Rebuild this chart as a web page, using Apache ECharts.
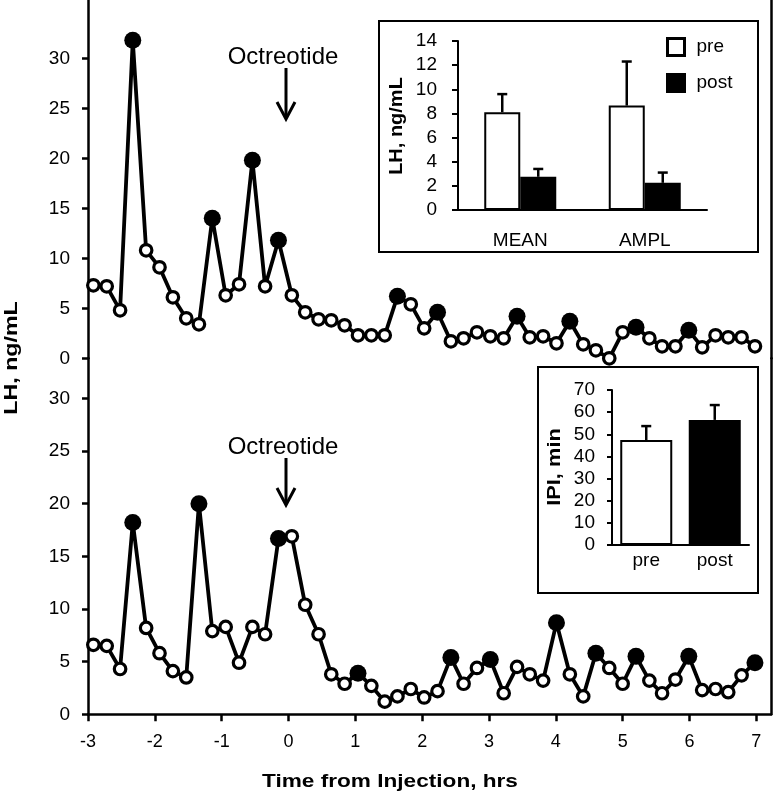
<!DOCTYPE html>
<html>
<head>
<meta charset="utf-8">
<script src="https://cdn.jsdelivr.net/npm/echarts@6/dist/echarts.min.js"></script>
<style>html,body{margin:0;padding:0;background:#fff}#c{width:774px;height:795px}</style>
</head>
<body>
<div id="c"></div>
<script>
// ---- data ----
const times = [-2.92,-2.72,-2.52,-2.33,-2.13,-1.93,-1.73,-1.53,-1.34,-1.14,-0.94,-0.74,-0.54,-0.35,-0.15,0.05,0.25,0.45,0.64,0.84,1.04,1.24,1.44,1.63,1.83,2.03,2.23,2.43,2.62,2.82,3.02,3.22,3.42,3.61,3.81,4.01,4.21,4.41,4.60,4.80,5.00,5.20,5.40,5.59,5.79,5.99,6.19,6.39,6.58,6.78,6.98];
const topLH = [7.3,7.2,4.8,31.8,10.8,9.1,6.1,4.0,3.4,14.0,6.3,7.4,19.8,7.2,11.8,6.3,4.6,3.9,3.8,3.3,2.3,2.3,2.3,6.2,5.4,3.0,4.6,1.7,2.0,2.6,2.2,2.0,4.2,2.1,2.2,1.5,3.7,1.4,0.8,0.0,2.6,3.1,2.0,1.2,1.2,2.8,1.1,2.3,2.1,2.1,1.2];
const bottomLH = [6.6,6.5,4.3,18.2,8.2,5.8,4.1,3.5,20.0,7.9,8.3,4.9,8.3,7.6,16.7,16.9,10.4,7.6,3.8,2.9,3.9,2.7,1.2,1.7,2.4,1.6,2.2,5.4,2.9,4.4,5.2,2.0,4.5,3.8,3.2,8.7,3.8,1.7,5.8,4.4,2.9,5.5,3.2,2.0,3.3,5.5,2.3,2.4,2.1,3.7,4.9];
const topPeakIdx = [3,9,12,14,23,26,32,36,41,45];
const bottomPeakIdx = [3,8,14,20,27,30,35,38,41,45,50];
const xTicks = [-3,-2,-1,0,1,2,3,4,5,6,7];
const yTicks = [0,5,10,15,20,25,30];

const barCats = ['MEAN','AMPL'];
const preMean = [8.1, 8.65];
const preErr = [1.5, 3.65];
const postMean = [2.75, 2.25];
const postErr = [0.65, 0.85];

const ipiCats = ['pre','post'];
const ipiMean = [47.4, 56.5];
const ipiErr = [6.3, 6.7];

// ---- build ----
const FONT = 'Liberation Sans, Arial, Helvetica, sans-serif';
function pts(vals, peaks) {
  return vals.map((v, i) => {
    const peak = peaks.indexOf(i) >= 0;
    return {
      value: [times[i], v],
      symbolSize: peak ? 17 : 11.5,
      itemStyle: peak ? {color:'#000', borderColor:'#000', borderWidth:0}
                      : {color:'#fff', borderColor:'#000', borderWidth:3.2}
    };
  });
}
function errRender(offset) {
  return function (params, api) {
    const c = api.value(0), lo = api.value(1), hi = api.value(2);
    const p1 = api.coord([c, lo]);
    const p2 = api.coord([c, hi]);
    const x = p1[0] + offset;
    const st = {stroke:'#000', lineWidth:2.5};
    return {type:'group', children:[
      {type:'line', shape:{x1:x, y1:p1[1], x2:x, y2:p2[1]}, style:st},
      {type:'line', shape:{x1:x-5, y1:p2[1], x2:x+5, y2:p2[1]}, style:st}
    ]};
  };
}
const axLine = {show:true, onZero:false, lineStyle:{color:'#000', width:2.5}};
const mainY = (gi, max) => ({
  gridIndex: gi, type:'value', min:0, max:max,
  axisLine: axLine,
  axisTick: {show:true, inside:false, length:6, lineStyle:{color:'#000', width:2.5}, customValues: yTicks},
  axisLabel: {color:'#000', fontSize:19, fontFamily:FONT, margin:18, customValues: yTicks},
  splitLine: {show:false}
});
const rightY = (gi, max) => ({
  gridIndex: gi, type:'value', position:'right', min:0, max:max,
  axisLine: axLine, axisTick:{show:false}, axisLabel:{show:false}, splitLine:{show:false}
});

function arrow(x, y1, y2) {
  return [
    {type:'line', shape:{x1:x, y1:y1, x2:x, y2:y2-1}, style:{stroke:'#000', lineWidth:3}},
    {type:'polyline', shape:{points:[[x-9, y2-17],[x, y2],[x+9, y2-17]]}, style:{stroke:'#000', lineWidth:3, fill:null}}
  ];
}

const option = {
  animation: false,
  backgroundColor: '#fff',
  textStyle: {fontFamily: FONT},
  grid: [
    {left:88, right:3, top:0, height:358.3},
    {left:88, right:3, top:358.3, height:356},
    {left:458, width:249, top:41, height:169},
    {left:612, width:137, top:390, height:155}
  ],
  xAxis: [
    {gridIndex:0, type:'value', min:-3, max:7.22, show:false},
    {gridIndex:1, type:'value', min:-3, max:7.22,
     axisLine: axLine,
     axisTick: {show:true, inside:false, length:7, lineStyle:{color:'#000', width:2.5}, customValues:xTicks},
     axisLabel: {color:'#000', fontSize:18, fontFamily:FONT, margin:19, customValues:xTicks},
     splitLine:{show:false}},
    {gridIndex:2, type:'category', data:barCats,
     axisLine:{show:true, onZero:false, lineStyle:{color:'#000', width:2}}, axisTick:{show:false},
     axisLabel:{color:'#000', fontSize:19, fontFamily:FONT, margin:21}},
    {gridIndex:3, type:'category', data:ipiCats,
     axisLine:{show:true, onZero:false, lineStyle:{color:'#000', width:2}}, axisTick:{show:false},
     axisLabel:{color:'#000', fontSize:19, fontFamily:FONT, margin:6}}
  ],
  yAxis: [
    mainY(0, 35.83),
    mainY(1, 33.8),
    rightY(0, 35.83),
    rightY(1, 33.8),
    {gridIndex:2, type:'value', min:0, max:14, interval:2,
     axisLine:{show:true, onZero:false, lineStyle:{color:'#000', width:2}},
     axisTick:{show:true, length:6, lineStyle:{color:'#000', width:2}},
     axisLabel:{color:'#000', fontSize:19, fontFamily:FONT, margin:21},
     splitLine:{show:false}},
    {gridIndex:3, type:'value', min:0, max:70, interval:10,
     axisLine:{show:true, onZero:false, lineStyle:{color:'#000', width:2}},
     axisTick:{show:true, length:5, lineStyle:{color:'#000', width:2}},
     axisLabel:{color:'#000', fontSize:19, fontFamily:FONT, margin:17},
     splitLine:{show:false}}
  ],
  legend: {
    data:['pre','post'], orient:'vertical', left:661, top:32,
    itemWidth:17, itemHeight:17, itemGap:16, icon:'rect',
    itemStyle:{borderColor:'#000', borderWidth:3},
    textStyle:{color:'#000', fontSize:19, fontFamily:FONT, padding:[0,0,0,7]}
  },
  series: [
    {type:'line', xAxisIndex:0, yAxisIndex:0, data:pts(topLH, topPeakIdx), symbol:'circle',
     lineStyle:{color:'#000', width:3.8}, clip:false, z:3},
    {type:'line', xAxisIndex:1, yAxisIndex:1, data:pts(bottomLH, bottomPeakIdx), symbol:'circle',
     lineStyle:{color:'#000', width:3.8}, clip:false, z:3},
    {name:'pre', type:'bar', xAxisIndex:2, yAxisIndex:4, data:preMean, barWidth:36, barGap:'0%',
     itemStyle:{color:'#fff', borderColor:'#000', borderWidth:2}},
    {name:'post', type:'bar', xAxisIndex:2, yAxisIndex:4, data:postMean, barWidth:36, barGap:'0%',
     itemStyle:{color:'#000', borderColor:'#000', borderWidth:2}},
    {name:'preErr', type:'custom', xAxisIndex:2, yAxisIndex:4, renderItem:errRender(-18),
     data: preMean.map((m,i)=>[i, m, m+preErr[i]]), z:5},
    {name:'postErr', type:'custom', xAxisIndex:2, yAxisIndex:4, renderItem:errRender(18),
     data: postMean.map((m,i)=>[i, m, m+postErr[i]]), z:5},
    {name:'IPI', type:'bar', xAxisIndex:3, yAxisIndex:5, barWidth:52,
     data: ipiMean.map((m,i)=>({value:m, itemStyle: i===0 ? {color:'#fff', borderColor:'#000', borderWidth:2} : {color:'#000', borderColor:'#000', borderWidth:2}}))},
    {name:'ipiErr', type:'custom', xAxisIndex:3, yAxisIndex:5, renderItem:errRender(0),
     data: ipiMean.map((m,i)=>[i, m, m+ipiErr[i]]), z:5}
  ],
  graphic: [].concat(
    [
      {type:'rect', shape:{x:379, y:21, width:379, height:231}, style:{fill:'transparent', stroke:'#000', lineWidth:2}, z:1},
      {type:'rect', shape:{x:538, y:367, width:220, height:226}, style:{fill:'transparent', stroke:'#000', lineWidth:2}, z:1},
      {type:'text', x:12, y:358, rotation:Math.PI/2, scaleX:1.22,
       style:{text:'LH, ng/mL', fill:'#000', font:'bold 19px ' + FONT, align:'center', verticalAlign:'middle'}},
      {type:'text', x:390, y:782, scaleX:1.19,
       style:{text:'Time from Injection, hrs', fill:'#000', font:'bold 19px ' + FONT, align:'center', verticalAlign:'middle'}},
      {type:'text', x:397, y:126, rotation:Math.PI/2, scaleX:1.11,
       style:{text:'LH, ng/mL', fill:'#000', font:'bold 18px ' + FONT, align:'center', verticalAlign:'middle'}},
      {type:'text', x:555, y:467, rotation:Math.PI/2, scaleX:1.15,
       style:{text:'IPI, min', fill:'#000', font:'bold 19px ' + FONT, align:'center', verticalAlign:'middle'}},
      {type:'text', x:283, y:57,
       style:{text:'Octreotide', fill:'#000', font:'24px ' + FONT, align:'center', verticalAlign:'middle'}},
      {type:'text', x:283, y:447,
       style:{text:'Octreotide', fill:'#000', font:'24px ' + FONT, align:'center', verticalAlign:'middle'}}
    ],
    arrow(286, 68, 119),
    arrow(286, 458, 505)
  )
};
const chart = echarts.init(document.getElementById('c'), null, {renderer:'canvas'});
chart.setOption(option);
</script>
</body>
</html>
